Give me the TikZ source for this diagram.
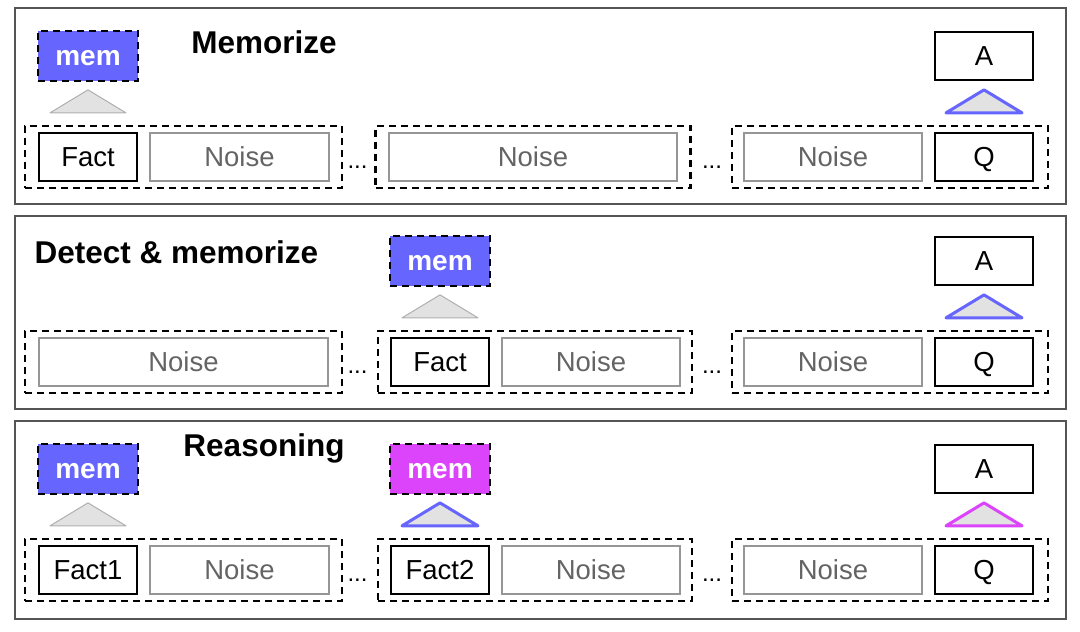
\documentclass[tikz,border=0pt]{standalone}
\usepackage{fontspec}
\setmainfont{Liberation Sans}
\usetikzlibrary{calc}
\definecolor{memblue}{RGB}{102,102,255}
\definecolor{memmag}{RGB}{219,68,250}
\definecolor{noisegray}{RGB}{150,150,150}
\definecolor{noisetext}{RGB}{100,100,100}
\definecolor{trifill}{RGB}{226,226,226}
\definecolor{tristroke}{RGB}{175,175,175}
\definecolor{framegray}{RGB}{85,85,85}
\tikzset{
  lbl/.style={font=\fontsize{27.5}{32}\selectfont, text height=19.7pt, text depth=0pt},
  factbox/.style={draw=black, line width=2.3pt, minimum width=98pt, minimum height=48pt, inner sep=0pt, lbl},
  noisebox/.style={draw=noisegray, line width=2.3pt, minimum height=48pt, inner sep=0pt, text=noisetext, lbl},
  grp/.style={draw=black, line width=2.2pt, dash pattern=on 7pt off 5pt, minimum height=62pt, inner sep=0pt},
  membox/.style={draw=black, line width=2.2pt, dash pattern=on 7pt off 5pt, minimum width=100pt, minimum height=50pt, inner sep=0pt, text height=18pt, text depth=0pt, text=white, font=\fontsize{28}{32}\selectfont\bfseries},
  title/.style={font=\fontsize{31.5}{36}\selectfont\bfseries},
  frame/.style={draw=framegray, line width=1.3pt},
  dots/.style={font=\fontsize{24}{26}\selectfont, anchor=base, inner sep=0pt},
  trigray/.style={fill=trifill, draw=tristroke, line width=1pt, line join=round},
  triblue/.style={fill=trifill, draw=memblue, line width=3pt, line join=round},
  trimag/.style={fill=trifill, draw=memmag, line width=3pt, line join=round},
}
\newcommand{\tri}[2]{%
  \draw[#1] ([shift={(-38,-19)}]#2.north) -- ([shift={(0,-42)}]#2.north) -- ([shift={(38,-19)}]#2.north) -- cycle;}
\begin{document}
\begin{tikzpicture}[x=1pt,y=-1pt]
\useasboundingbox (0,0) rectangle (1080,632);
% ---------- Panel 1 ----------
\draw[frame] (15,8) rectangle (1066,204);
\node[grp, minimum width=317pt] (g11) at (183.5,157) {};
\node[factbox] (f11) at (88,157) {Fact};
\node[noisebox, minimum width=179pt] (n11) at (239.5,157) {Noise};
\node[dots] (d11) at (357.5,168) {...};
\node[grp, minimum width=315pt] (g12) at (533,157) {};
\node[noisebox, minimum width=288pt] (n12) at (533,157) {Noise};
\node[dots] (d12) at (712,168) {...};
\node[grp, minimum width=316pt] (g13) at (890,157) {};
\node[noisebox, minimum width=178pt] (n13) at (833,157) {Noise};
\node[factbox] (q1) at (984,157) {Q};
\node[membox, fill=memblue] (m11) at (88,56) {mem};
\node[factbox] (a1) at (984,56) {A};
\node[title] (t1) at (264,42) {Memorize};
\tri{trigray}{f11}
\tri{triblue}{q1}
% ---------- Panel 2 ----------
\draw[frame] (15,216) rectangle (1066,409);
\node[grp, minimum width=317pt] (g21) at (183.5,362) {};
\node[noisebox, minimum width=289pt] (n21) at (183.5,362) {Noise};
\node[dots] (d21) at (357.5,373) {...};
\node[grp, minimum width=314pt] (g22) at (535,362) {};
\node[factbox] (f22) at (440,362) {Fact};
\node[noisebox, minimum width=178pt] (n22) at (591,362) {Noise};
\node[dots] (d22) at (712,373) {...};
\node[grp, minimum width=316pt] (g23) at (890,362) {};
\node[noisebox, minimum width=178pt] (n23) at (833,362) {Noise};
\node[factbox] (q2) at (984,362) {Q};
\node[membox, fill=memblue] (m22) at (440,261) {mem};
\node[factbox] (a2) at (984,261) {A};
\node[title, anchor=west] (t2) at (31,252) {Detect \& memorize};
\tri{trigray}{f22}
\tri{triblue}{q2}
% ---------- Panel 3 ----------
\draw[frame] (15,421) rectangle (1066,619);
\node[grp, minimum width=317pt] (g31) at (183.5,570) {};
\node[factbox] (f31) at (88,570) {Fact1};
\node[noisebox, minimum width=179pt] (n31) at (239.5,570) {Noise};
\node[dots] (d31) at (357.5,581) {...};
\node[grp, minimum width=314pt] (g32) at (535,570) {};
\node[factbox] (f32) at (440,570) {Fact2};
\node[noisebox, minimum width=178pt] (n32) at (591,570) {Noise};
\node[dots] (d32) at (712,581) {...};
\node[grp, minimum width=316pt] (g33) at (890,570) {};
\node[noisebox, minimum width=178pt] (n33) at (833,570) {Noise};
\node[factbox] (q3) at (984,570) {Q};
\node[membox, fill=memblue] (m31) at (88,469) {mem};
\node[membox, fill=memmag] (m32) at (440,469) {mem};
\node[factbox] (a3) at (984,469) {A};
\node[title] (t3) at (264,448) {Reasoning};
\tri{trigray}{f31}
\tri{triblue}{f32}
\tri{trimag}{q3}
\end{tikzpicture}
\end{document}
